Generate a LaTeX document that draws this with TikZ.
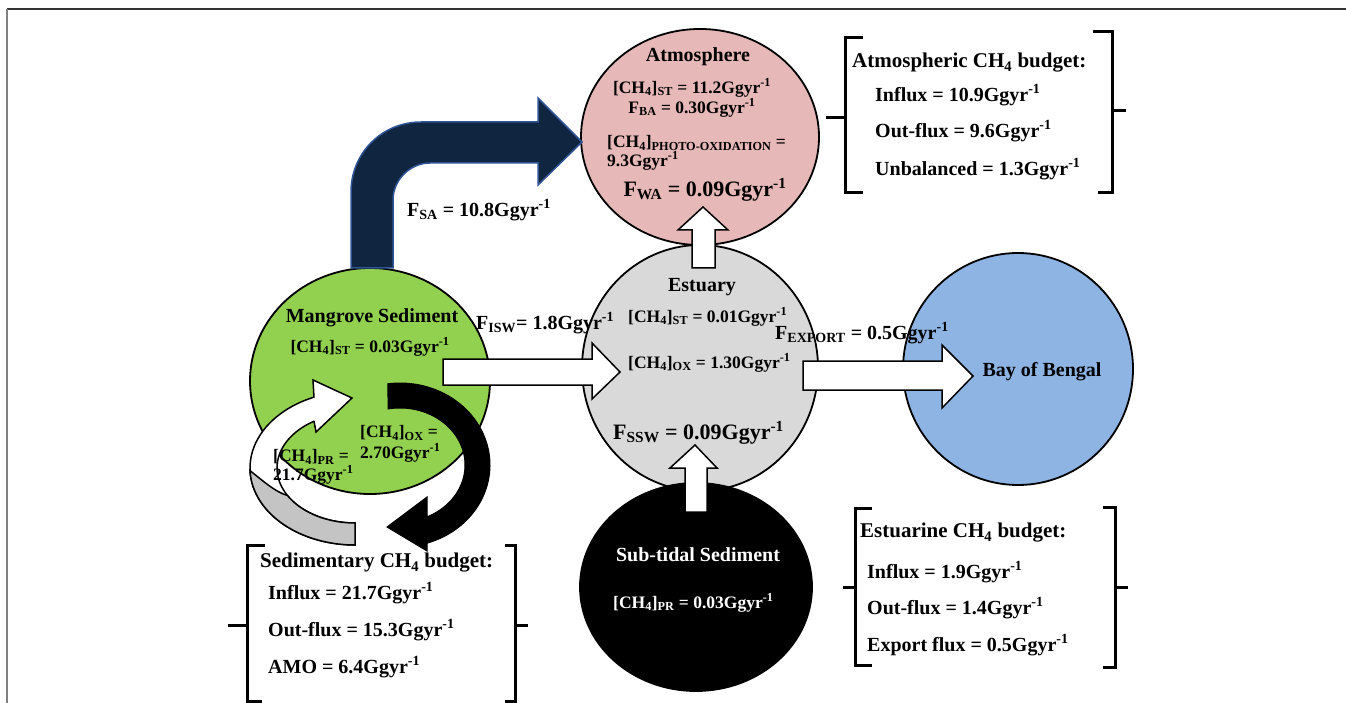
\documentclass[tikz,border=0pt]{standalone}
\usepackage{fontspec}
\setmainfont{Liberation Serif}
\usetikzlibrary{shapes.geometric}
\newcommand\chf[1]{[CH\textsubscript{4}]\textsubscript{#1}}
\newcommand\Gy{Ggyr\textsuperscript{-1}}
\definecolor{pinkc}{HTML}{E6B9B8}
\definecolor{grayc}{HTML}{D9D9D9}
\definecolor{bluec}{HTML}{8EB4E3}
\definecolor{greenc}{HTML}{92D050}
\definecolor{navyc}{HTML}{10253F}
\definecolor{navyb}{HTML}{2F5597}
\definecolor{ribgray}{HTML}{C4C4C4}
\begin{document}
\begin{tikzpicture}[x=1pt,y=-1pt,
  circ/.style={ellipse, draw=black, line width=1.8pt, inner sep=0pt},
  tx/.style={inner sep=0pt, font=\bfseries\fontsize{17.5}{20}\selectfont},
  hd/.style={inner sep=0pt, font=\bfseries\fontsize{20}{24}\selectfont},
  big/.style={inner sep=0pt, font=\bfseries\fontsize{22}{26}\selectfont},
  lb/.style={inner sep=0pt, font=\bfseries\fontsize{20}{24}\selectfont},
  bh/.style={inner sep=0pt, font=\bfseries\fontsize{21}{25}\selectfont},
  bd/.style={inner sep=0pt, font=\bfseries\fontsize{20}{24}\selectfont},
  warrow/.style={fill=white, draw=black, line width=1.5pt, line join=miter},
  brk/.style={line width=3pt, line cap=butt, line join=miter}]
\useasboundingbox (0,0) rectangle (1346,703);
% frame
\draw[line width=2pt, black!80] (7,9) -- (1346,9);
\draw[line width=2pt, black!50] (7,9) -- (7,703);
% circles
\node[circ, fill=pinkc, minimum width=238pt, minimum height=216pt] (atm) at (700,137) {};
\node[circ, fill=grayc, minimum width=236pt, minimum height=246pt] (est) at (700,368) {};
\node[circ, fill=black, minimum width=232pt, minimum height=208pt] (sub) at (696,587) {};
\node[circ, fill=bluec, minimum width=230pt, minimum height=232pt] (bay) at (1018,369) {};
\node[circ, fill=greenc, minimum width=240pt, minimum height=226pt] (mang) at (370,381) {};
% navy bent arrow (mangrove -> atmosphere)
\filldraw[fill=navyc, draw=navyb, line width=1.5pt, line join=miter]
  (351,268) -- (351,192) .. controls (351,153) and (382,122) .. (421,122)
  -- (538,122) -- (538,98) -- (582,142) -- (538,185) -- (538,163)
  -- (430,163) .. controls (410,163) and (393,180) .. (393,200) -- (393,268) -- cycle;
% white straight arrows
\filldraw[warrow] (443,359) -- (592,359) -- (592,343) -- (620,372) -- (592,399) -- (592,385) -- (443,385) -- cycle;
\filldraw[warrow] (803,361) -- (942,361) -- (942,345) -- (973,376) -- (942,408) -- (942,390) -- (803,390) -- cycle;
\filldraw[warrow] (692,268) -- (692,230) -- (678,230) -- (703,207) -- (728,230) -- (715,230) -- (715,268) -- cycle;
\filldraw[warrow] (685,512) -- (685,468) -- (670,468) -- (695,445) -- (717,468) -- (707,468) -- (707,512) -- cycle;
% white/gray circular ribbon
\filldraw[warrow]
  plot[domain=90:247, samples=50] ({355+105*cos(\x)},{468+77*sin(\x)})
  -- (313,380) -- (352,398) -- (316,432) -- (314,421)
  -- plot[domain=238.3:90, samples=50] ({355+78*cos(\x)},{468+55*sin(\x)}) -- cycle;
\filldraw[fill=ribgray, draw=black, line width=1.5pt, line join=miter]
  plot[domain=90:178, samples=40] ({355+105*cos(\x)},{468+77*sin(\x)})
  .. controls (262,480) and (275,492) .. ({355+78*cos(150)},{468+55*sin(150)})
  -- plot[domain=150:90, samples=30] ({355+78*cos(\x)},{468+55*sin(\x)}) -- cycle;
% black circular ribbon
\filldraw[fill=black, draw=black, line width=1pt, line join=miter]
  plot[domain=-97.7:72.5, samples=60] ({400+90*cos(\x)},{465+82*sin(\x)})
  -- (427,551) -- (387,527) -- (427,497) -- (427,517)
  -- plot[domain=65.5:-100.6, samples=60] ({400+65*cos(\x)},{465+57*sin(\x)}) -- cycle;
% brackets
\draw[brk] (863,38) -- (845,38) -- (845,193) -- (863,193);
\draw[brk] (845,118) -- (826,118);
\draw[brk] (1093,32) -- (1112,32) -- (1112,193) -- (1098,193);
\draw[brk] (1112,111) -- (1126,111);
\draw[brk] (872,508) -- (855,508) -- (855,665) -- (872,665);
\draw[brk] (855,587) -- (843,587);
\draw[brk] (1103,507) -- (1115,507) -- (1115,667) -- (1103,667);
\draw[brk] (1115,587) -- (1128,587);
\draw[brk] (265,545) -- (247,545) -- (247,701) -- (262,701);
\draw[brk] (247,625) -- (228,625);
\draw[brk] (505,545) -- (515,545) -- (515,701) -- (505,701);
\draw[brk] (515,625) -- (528,625);
% atmosphere texts
\node[hd] (tAtm) at (698,57) {Atmosphere};
\node[tx] (tAtmST) at (692,88) {\chf{ST} = 11.2\Gy};
\node[tx] (tFBA) at (692,108) {F\textsubscript{BA} = 0.30\Gy};
\node[tx, anchor=west] (tPhoto) at (607,143) {\chf{PHOTO-OXIDATION} =};
\node[tx, anchor=west] (tPhoto2) at (607,161) {9.3\Gy};
\node[big] (tFWA) at (705,190) {F\textsubscript{WA} = 0.09\Gy};
% mangrove texts
\node[hd] (tMang) at (372,318) {Mangrove Sediment};
\node[tx] (tMangST) at (370,347) {\chf{ST} = 0.03\Gy};
\node[tx, anchor=west] (tOX1) at (360,433) {\chf{OX} =};
\node[tx, anchor=west] (tOX2) at (360,453) {2.70\Gy};
\node[tx, anchor=west] (tPR1) at (273,457) {\chf{PR} =};
\node[tx, anchor=west] (tPR2) at (273,475) {21.7\Gy};
% flux labels
\node[lb, anchor=west] (lFSA) at (407,210) {F\textsubscript{SA} = 10.8\Gy};
\node[lb, anchor=west] (lFISW) at (476,323) {F\textsubscript{ISW}= 1.8\Gy};
\node[lb, anchor=west] (lFEX) at (775,333) {F\textsubscript{EXPORT} = 0.5\Gy};
% estuary texts
\node[hd] (tEst) at (702,287) {Estuary};
\node[tx, anchor=west] (tEstST) at (628,317) {\chf{ST} = 0.01\Gy};
\node[tx, anchor=west] (tEstOX) at (628,363) {\chf{OX} = 1.30\Gy};
\node[big, anchor=west] (tFSSW) at (613,433) {F\textsubscript{SSW} = 0.09\Gy};
% sub-tidal texts
\node[hd, text=white] (tSub) at (698,555) {Sub-tidal Sediment};
\node[tx, text=white, anchor=west] (tSubPR) at (613,603) {\chf{PR} = 0.03\Gy};
% bay
\node[hd] (tBay) at (1042,372) {Bay of Bengal};
% budgets
\node[bh, anchor=west] (bA0) at (852,63) {Atmospheric CH\textsubscript{4} budget:};
\node[bd, anchor=west] (bA1) at (875,95) {Influx = 10.9\Gy};
\node[bd, anchor=west] (bA2) at (875,131) {Out-flux = 9.6\Gy};
\node[bd, anchor=west] (bA3) at (875,169) {Unbalanced = 1.3\Gy};
\node[bh, anchor=west] (bE0) at (860,533) {Estuarine CH\textsubscript{4} budget:};
\node[bd, anchor=west] (bE1) at (867,572) {Influx = 1.9\Gy};
\node[bd, anchor=west] (bE2) at (867,608) {Out-flux = 1.4\Gy};
\node[bd, anchor=west] (bE3) at (867,645) {Export flux = 0.5\Gy};
\node[bh, anchor=west] (bS0) at (260,563) {Sedimentary CH\textsubscript{4} budget:};
\node[bd, anchor=west] (bS1) at (268,593) {Influx = 21.7\Gy};
\node[bd, anchor=west] (bS2) at (268,630) {Out-flux = 15.3\Gy};
\node[bd, anchor=west] (bS3) at (268,667) {AMO = 6.4\Gy};
\end{tikzpicture}
\end{document}
